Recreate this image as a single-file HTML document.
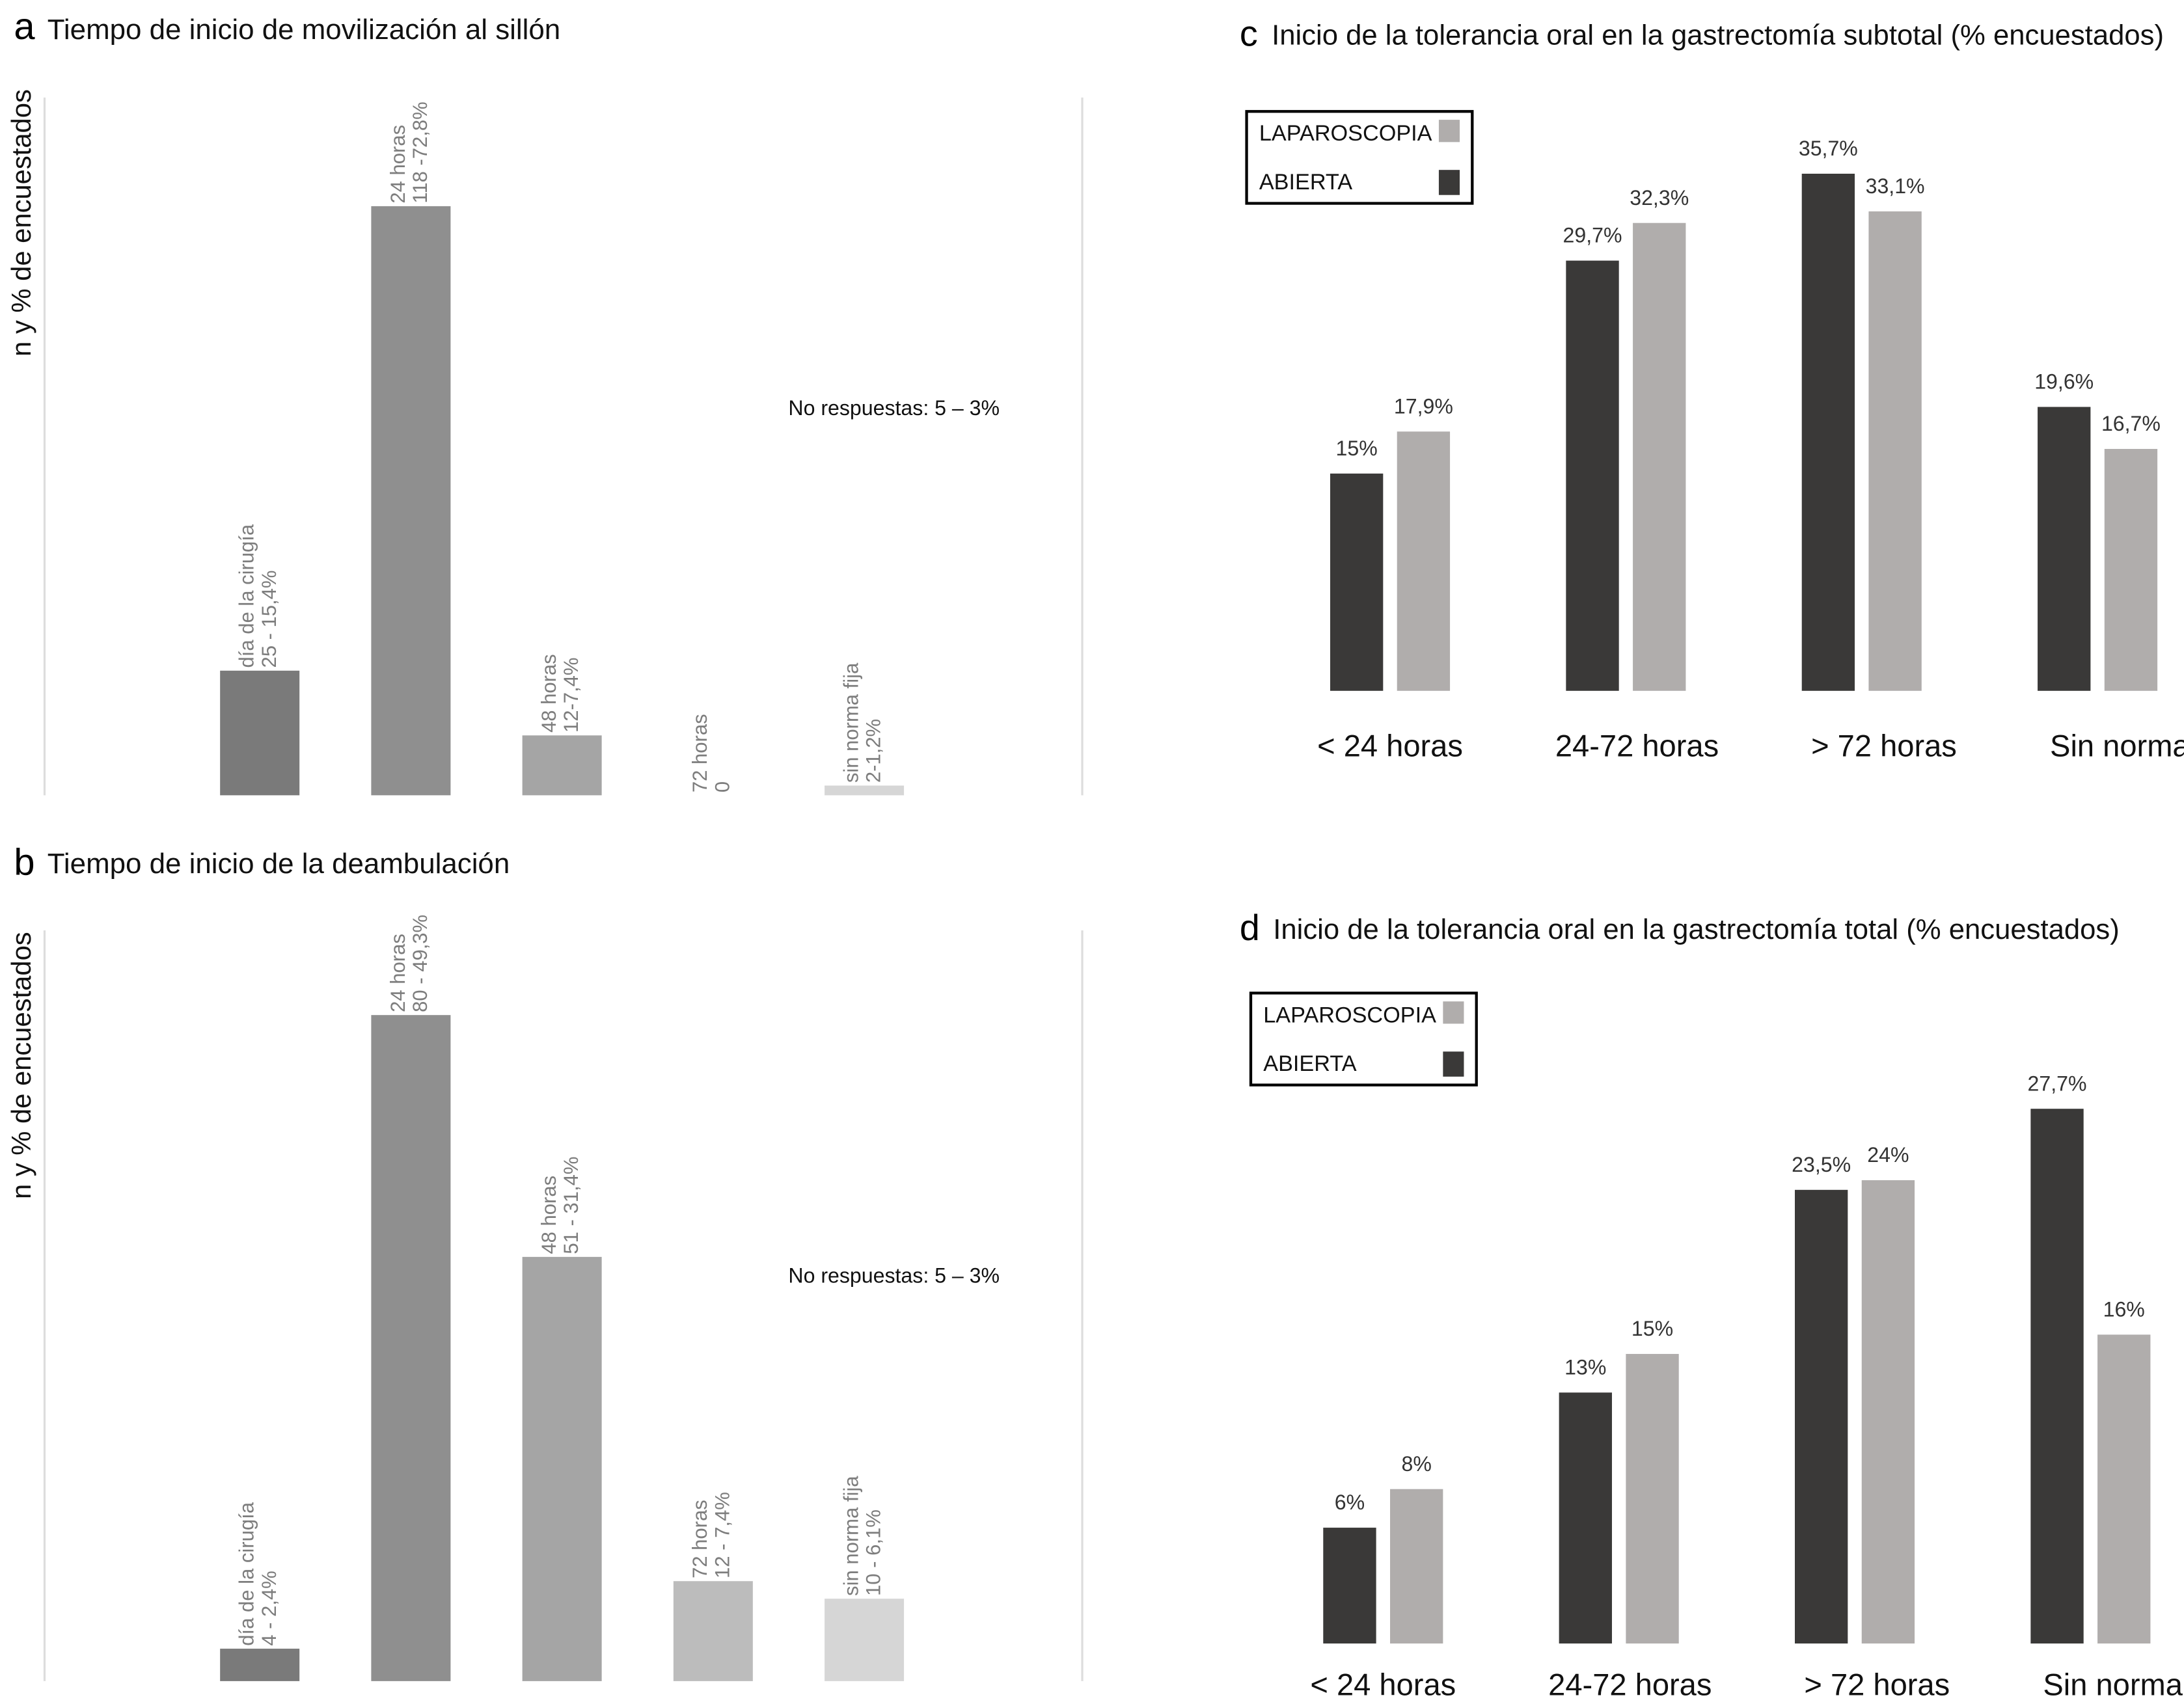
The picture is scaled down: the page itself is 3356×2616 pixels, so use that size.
<!DOCTYPE html>
<html><head><meta charset="utf-8"><style>
html,body{margin:0;padding:0;background:#fff}
svg{display:block}
text{font-family:"Liberation Sans",sans-serif}
</style></head><body>
<svg id="s" width="3356" height="2616" viewBox="0 0 1568 1222" preserveAspectRatio="none" xmlns="http://www.w3.org/2000/svg">
<g id="pa">
<text x="10" y="28" font-size="27" fill="#000">a</text>
<text x="34" y="28" font-size="20.5" fill="#111">Tiempo de inicio de movilización al sillón</text>
<text transform="translate(22,160) rotate(-90)" text-anchor="middle" font-size="19.5" fill="#111">n y % de encuestados</text>
<line x1="32" y1="70" x2="32" y2="571" stroke="#ddd" stroke-width="1.5"/>
<line x1="777" y1="70" x2="777" y2="571" stroke="#ddd" stroke-width="1.5"/>
<text x="566" y="298" font-size="15" fill="#111">No respuestas: 5 – 3%</text>
</g>
<g id="pb">
<text x="10" y="628" font-size="27" fill="#000">b</text>
<text x="34" y="627" font-size="20.5" fill="#111">Tiempo de inicio de la deambulación</text>
<text transform="translate(22,765) rotate(-90)" text-anchor="middle" font-size="19.5" fill="#111">n y % de encuestados</text>
<line x1="32" y1="668" x2="32" y2="1207" stroke="#ddd" stroke-width="1.5"/>
<line x1="777" y1="668" x2="777" y2="1207" stroke="#ddd" stroke-width="1.5"/>
<text x="566" y="921" font-size="15" fill="#111">No respuestas: 5 – 3%</text>
</g>
<g id="pc">
<text x="890" y="33" font-size="26" fill="#000">c</text>
<text x="913" y="32" font-size="20.4" fill="#111">Inicio de la tolerancia oral en la gastrectomía subtotal (% encuestados)</text>
</g>
<g id="pd">
<text x="890" y="675" font-size="26" fill="#000">d</text>
<text x="914" y="674" font-size="20.4" fill="#111">Inicio de la tolerancia oral en la gastrectomía total (% encuestados)</text>
</g>
</svg>
<script>
// Panels a/b data
const catsAB = ["día de la cirugía","24 horas","48 horas","72 horas","sin norma fija"];
const valsA = [15.4,72.8,7.4,0,1.2];
const lblA = ["25 - 15,4%","118 -72,8%","12-7,4%","0","2-1,2%"];
const valsB = [2.4,49.3,31.4,7.4,6.1];
const lblB = ["4 - 2,4%","80 - 49,3%","51 - 31,4%","12 - 7,4%","10 - 6,1%"];
const colorsAB = ["#7a7a7a","#8f8f8f","#a5a5a5","#bcbcbc","#d6d6d6"];
// Panels c/d data
const catsCD = ["< 24 horas","24-72 horas","> 72 horas","Sin norma"];
const abiertaC = [15,29.7,35.7,19.6];
const laparoC = [17.9,32.3,33.1,16.7];
const abiertaLblC = ["15%","29,7%","35,7%","19,6%"];
const laparoLblC = ["17,9%","32,3%","33,1%","16,7%"];
const abiertaD = [6,13,23.5,27.7];
const laparoD = [8,15,24,16];
const abiertaLblD = ["6%","13%","23,5%","27,7%"];
const laparoLblD = ["8%","15%","24%","16%"];

const NS="http://www.w3.org/2000/svg";
function mk(parent,tag,attrs,txt){const e=document.createElementNS(NS,tag);for(const k in attrs)e.setAttribute(k,attrs[k]);if(txt!==undefined)e.textContent=txt;parent.appendChild(e);return e;}

function drawAB(gid,vals,lbls,base,scale,prefix){
  const g=document.getElementById(gid);
  const x=i=>158+i*108.5;
  const y=v=>base-v*scale;
  vals.forEach((v,i)=>{
    const r=mk(g,'rect',{x:x(i),y:y(v),width:57,height:base-y(v),fill:colorsAB[i]});
    
    
    const t=mk(g,'text',{transform:`translate(${x(i)+24},${y(v)-2}) rotate(-90)`,'font-size':14.5,fill:'#7d7d7d'});
    
    
    mk(t,'tspan',{x:0,y:0},catsAB[i]);
    mk(t,'tspan',{x:0,y:16},lbls[i]);
  });
}
drawAB('pa',valsA,lblA,571,5.81,'panel-a');
drawAB('pb',valsB,lblB,1207,9.7,'panel-b');

function drawCD(gid,ab,lp,abL,lpL,base,scale,x0,catY,legX,legY,prefix){
  const g=document.getElementById(gid);
  const x=i=>x0+i*169.3;
  const y=v=>base-v*scale;
  catsCD.forEach((c,i)=>{
    const r1=mk(g,'rect',{x:x(i),y:y(ab[i]),width:38,height:base-y(ab[i]),fill:'#3a3938'});
    
    
    const r2=mk(g,'rect',{x:x(i)+48,y:y(lp[i]),width:38,height:base-y(lp[i]),fill:'#b0adac'});
    
    
    const t1=mk(g,'text',{x:x(i)+19,y:y(ab[i])-13,'text-anchor':'middle','font-size':15,fill:'#333'},abL[i]);
    
    
    const t2=mk(g,'text',{x:x(i)+67,y:y(lp[i])-13,'text-anchor':'middle','font-size':15,fill:'#333'},lpL[i]);
    
    
    const cl=mk(g,'text',{x:x(i)+43+Math.min(i,2)*8,y:catY,'text-anchor':'middle','font-size':22,fill:'#111'},c);
    
    
  });
  const lg=mk(g,'g',{});
  
  
  mk(lg,'rect',{x:legX,y:legY,width:162,height:66,fill:'#fff',stroke:'#000','stroke-width':2});
  const e1=mk(lg,'text',{x:legX+9,y:legY+21,'font-size':16,fill:'#111'},'LAPAROSCOPIA');
  
  
  mk(lg,'rect',{x:legX+138,y:legY+6,width:15,height:16,fill:'#b0adac'});
  const e2=mk(lg,'text',{x:legX+9,y:legY+56,'font-size':16,fill:'#111'},'ABIERTA');
  
  
  mk(lg,'rect',{x:legX+138,y:legY+42,width:15,height:18,fill:'#3a3938'});
}
drawCD('pc',abiertaC,laparoC,abiertaLblC,laparoLblC,496,10.4,955,543,895,80,'panel-c');
drawCD('pd',abiertaD,laparoD,abiertaLblD,laparoLblD,1180,13.86,950,1217,898,713,'panel-d');
</script>
</body></html>
